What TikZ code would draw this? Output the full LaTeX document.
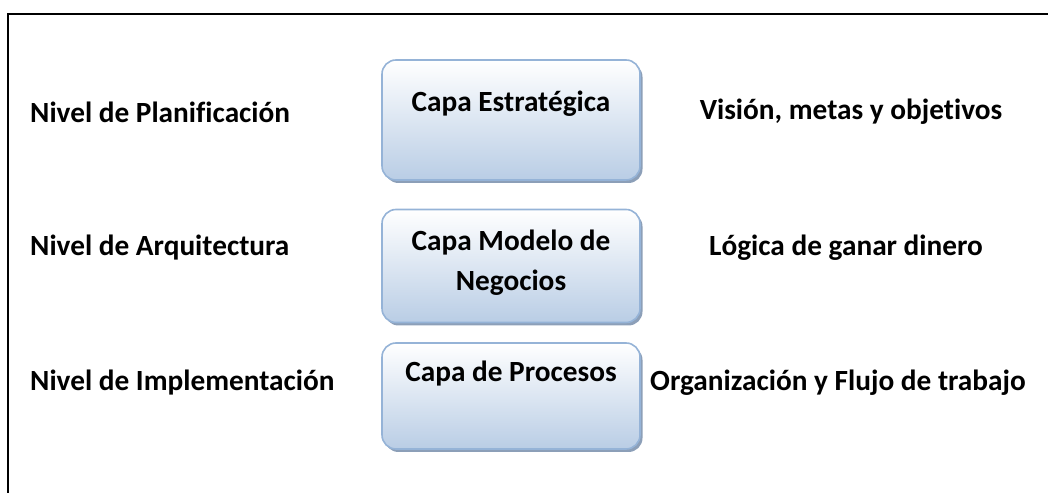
\documentclass[tikz,border=0pt]{standalone}
\usepackage{fontspec}
\setmainfont[Ligatures={NoCommon}]{Carlito}
\usetikzlibrary{shadows}
\definecolor{boxtop}{HTML}{FFFFFF}
\definecolor{boxbot}{HTML}{B9CDE5}
\definecolor{boxline}{HTML}{95B3D7}
\definecolor{shadowc}{HTML}{8C9FB8}
\tikzset{
  layerbox/.style={draw=boxline, line width=1.6pt, rounded corners=14pt,
    top color=boxtop, bottom color=boxbot, minimum width=258pt, inner sep=0pt,
    drop shadow={shadow xshift=2.5pt, shadow yshift=-3pt, fill=shadowc, opacity=1}},
  lbl/.style={font=\fontsize{29.3}{36}\selectfont\bfseries, inner sep=0pt},
  boxtxt/.style={font=\fontsize{29.3}{40}\selectfont\bfseries, inner sep=0pt, align=center}
}
\begin{document}
\begin{tikzpicture}[x=1pt,y=1pt]
\useasboundingbox (0,0) rectangle (1048,492);
\draw[line width=2.5pt] (8,-5) -- (8,478) -- (1055,478);
% boxes
\node[layerbox, minimum height=120pt] (b1) at (511,372) {};
\node[layerbox, minimum height=113pt] (b2) at (511,226) {};
\node[layerbox, minimum height=106pt] (b3) at (511,96) {};
\node[boxtxt] (t1) at (511,388) {Capa Estratégica};
\node[boxtxt] (t2) at (511,229) {Capa Modelo de\\Negocios};
\node[boxtxt] (t3) at (511,118) {Capa de Procesos};
% left labels
\node[lbl, anchor=west] (l1) at (30,380) {Nivel de Planificación};
\node[lbl, anchor=west] (l2) at (30,244) {Nivel de Arquitectura};
\node[lbl, anchor=west] (l3) at (30,109) {Nivel de Implementación};
% right labels
\node[lbl] (r1) at (851,380) {Visión, metas y objetivos};
\node[lbl] (r2) at (846,244) {Lógica de ganar dinero};
\node[lbl] (r3) at (838,109) {Organización y Flujo de trabajo};
\end{tikzpicture}
\end{document}
